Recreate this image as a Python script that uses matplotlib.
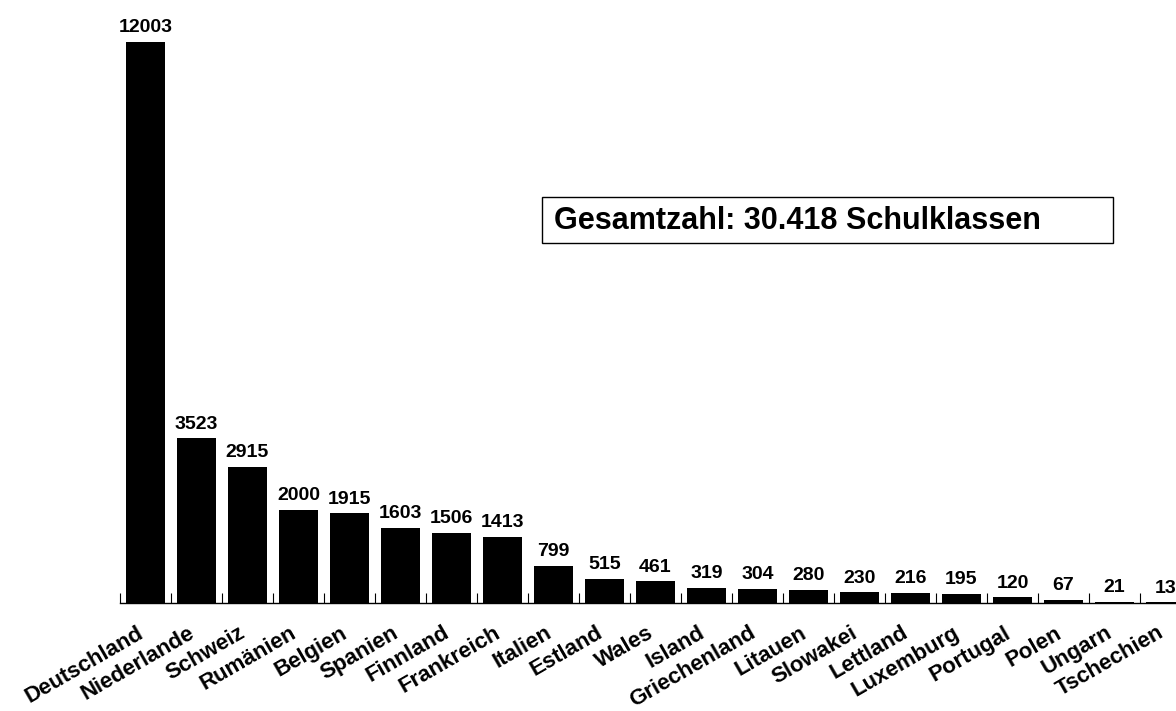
import matplotlib
matplotlib.use("Agg")
import matplotlib.pyplot as plt
import matplotlib.transforms as mtransforms
from matplotlib.patches import Rectangle
import numpy as np

plt.rcParams['font.family'] = ['Liberation Sans', 'DejaVu Sans']
plt.rcParams['font.weight'] = 'bold'

# data
laender = ["Deutschland", "Niederlande", "Schweiz", "Rumänien", "Belgien",
           "Spanien", "Finnland", "Frankreich", "Italien", "Estland", "Wales",
           "Island", "Griechenland", "Litauen", "Slowakei", "Lettland",
           "Luxemburg", "Portugal", "Polen", "Ungarn", "Tschechien"]
klassen = [12003, 3523, 2915, 2000, 1915, 1603, 1506, 1413, 799, 515, 461,
           319, 304, 280, 230, 216, 195, 120, 67, 21, 13]
gesamt_text = "Gesamtzahl: 30.418 Schulklassen"

W, H = 1176, 711
fig = plt.figure(figsize=(W / 100, H / 100), dpi=100)
# axes starts at first tick, runs off the right edge like the original
ax = fig.add_axes([120 / W, 108 / H, 1071 / W, 603 / H])

x = np.arange(len(laender))
ax.bar(x, klassen, width=0.75, color="black")

for xi, v in zip(x, klassen):
    ax.annotate(str(v), (xi, v), xytext=(0, 7), textcoords="offset points",
                ha="center", va="baseline", fontsize=14, fontweight="bold")

ax.set_xlim(-0.5, len(laender) - 0.5)
ax.set_ylim(0, 12900)

for s in ["top", "right", "left"]:
    ax.spines[s].set_visible(False)
ax.spines["bottom"].set_linewidth(1.0)
ax.set_yticks([])

ax.set_xticks(x)
ax.set_xticklabels(laender, rotation=30, ha="right", va="top",
                   rotation_mode="anchor", fontsize=16, fontweight="bold")
ax.tick_params(axis="x", which="major", length=0, pad=14)
ax.set_xticks(np.arange(-0.5, len(laender), 1.0), minor=True)
ax.tick_params(axis="x", which="minor", direction="in", length=7, width=0.8)

# labels end a bit left of the bar centre
shift = mtransforms.ScaledTranslation(-9 / 100, 0, fig.dpi_scale_trans)
for lab in ax.get_xticklabels():
    lab.set_transform(lab.get_transform() + shift)

# box with total
fig.patches.append(Rectangle((542 / W, 1 - 243 / H), 571 / W, 46 / H,
                             transform=fig.transFigure, fill=False,
                             edgecolor="black", linewidth=1.0))
fig.text(554 / W, 1 - 221 / H, gesamt_text, ha="left", va="center",
         fontsize=22, fontweight="bold")

fig.savefig("out.png", dpi=100)
